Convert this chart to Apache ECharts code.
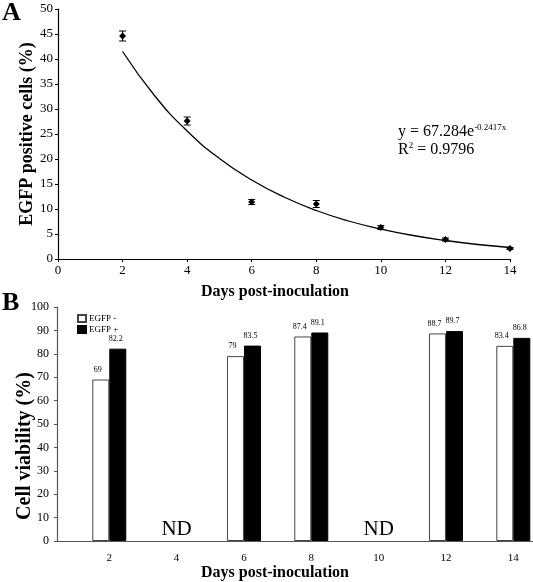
<!DOCTYPE html>
<html>
<head>
<meta charset="utf-8">
<script src="https://cdn.jsdelivr.net/npm/echarts@6/dist/echarts.min.js"></script>
<style>html,body{margin:0;padding:0;background:#fff}#c{width:533px;height:582px}</style>
</head>
<body>
<div id="c"></div>
<script>
// Panel A data
var daysA = [2, 4, 6, 8, 10, 12, 14];
var egfpPositive = [44.6, 27.6, 11.4, 11.0, 6.3, 3.9, 2.1];
var egfpError = [1.0, 0.8, 0.5, 0.7, 0.4, 0.3, 0.2];
var fitDays = [2, 3, 4, 5, 6, 7, 8, 9, 10, 11, 12, 13, 14];
var fitValues = [41.5, 32.6, 25.6, 20.1, 15.8, 12.4, 9.7, 7.6, 6.0, 4.7, 3.7, 2.9, 2.3];
// Panel B data
var daysB = [2, 6, 8, 12, 14];
var viabilityNeg = [69, 79, 87.4, 88.7, 83.4];
var viabilityPos = [82.2, 83.5, 89.1, 89.7, 86.8];
var ndDays = [4, 10];
var tickDaysB = [2, 4, 6, 8, 10, 12, 14];

var FONT = 'Liberation Serif';
var chart = echarts.init(document.getElementById('c'));

function zip(a, b) { return a.map(function (v, i) { return [v, b[i]]; }); }

var option = {
  backgroundColor: '#fff',
  animation: false,
  textStyle: { fontFamily: FONT },
  grid: [
    { left: 58, right: 23, top: 9, bottom: 323 },
    { left: 57, right: 0, top: 307, bottom: 40 }
  ],
  legend: {
    data: ['EGFP -', 'EGFP +'],
    orient: 'vertical',
    left: 72, top: 309,
    itemWidth: 8, itemHeight: 7, itemGap: 2,
    icon: 'rect',
    textStyle: { fontFamily: FONT, fontSize: 9, color: '#000', padding: [0, 0, 0, -2] }
  },
  xAxis: [
    {
      gridIndex: 0, type: 'value', min: 0, max: 14, interval: 2,
      name: 'Days post-inoculation', nameLocation: 'middle', nameGap: 25, nameMoveOverlap: false,
      nameTextStyle: { fontFamily: FONT, fontSize: 16, fontWeight: 'bold', color: '#000', padding: [0, 18, 0, 0] },
      axisLine: { lineStyle: { color: '#000', width: 1.2 } },
      axisTick: { show: true, inside: false, length: 3, lineStyle: { color: '#000' } },
      axisLabel: { fontFamily: FONT, fontSize: 13, color: '#000', margin: 5 },
      splitLine: { show: false }
    },
    {
      gridIndex: 1, type: 'value', min: 0.447, max: 14.585,
      name: 'Days post-inoculation', nameLocation: 'middle', nameGap: 24, nameMoveOverlap: false,
      nameTextStyle: { fontFamily: FONT, fontSize: 16, fontWeight: 'bold', color: '#000', padding: [0, 40, 0, 0] },
      axisLine: { onZero: false, lineStyle: { color: '#555', width: 1.2 } },
      axisTick: { show: false },
      axisLabel: { fontFamily: FONT, fontSize: 11, color: '#000', margin: 12, customValues: tickDaysB },
      splitLine: { show: false }
    }
  ],
  yAxis: [
    {
      gridIndex: 0, type: 'value', min: 0, max: 50, interval: 5,
      name: 'EGFP positive cells (%)', nameLocation: 'middle', nameGap: 22, nameMoveOverlap: false,
      nameTextStyle: { fontFamily: FONT, fontSize: 18, fontWeight: 'bold', color: '#000' },
      axisLine: { show: true, lineStyle: { color: '#000', width: 1.2 } },
      axisTick: { show: true, length: 3, lineStyle: { color: '#000' } },
      axisLabel: { fontFamily: FONT, fontSize: 13, color: '#000', margin: 5 },
      splitLine: { show: false }
    },
    {
      gridIndex: 1, type: 'value', min: 0, max: 100, interval: 10,
      name: 'Cell viability (%)', nameLocation: 'middle', nameGap: 22, nameMoveOverlap: false,
      nameTextStyle: { fontFamily: FONT, fontSize: 20, fontWeight: 'bold', color: '#000', padding: [0, 44, 0, 0] },
      axisLine: { show: true, lineStyle: { color: '#555', width: 1.2 } },
      axisTick: { show: true, length: 3, lineStyle: { color: '#555' } },
      axisLabel: { fontFamily: FONT, fontSize: 12, color: '#000', margin: 8 },
      splitLine: { show: false }
    }
  ],
  graphic: [
    { type: 'text', left: 2, top: 0, style: { text: 'A', font: 'bold 26px "Liberation Serif"', fill: '#000' } },
    { type: 'text', left: 2, top: 290, style: { text: 'B', font: 'bold 26px "Liberation Serif"', fill: '#000' } },
    { type: 'text', left: 398, top: 123, style: {
        text: '{m|y = 67.284e}{s|-0.2417x}\n{m|R}{s|2}{m| = 0.9796}',
        rich: {
          m: { fontFamily: FONT, fontSize: 16, color: '#000', lineHeight: 18 },
          s: { fontFamily: FONT, fontSize: 9, color: '#000', verticalAlign: 'top', padding: [0, 0, 7, 0], lineHeight: 18 }
        }
    } }
  ],
  series: [
    {
      type: 'line', xAxisIndex: 0, yAxisIndex: 0, smooth: true, symbol: 'none',
      lineStyle: { color: '#000', width: 1.3 },
      data: zip(fitDays, fitValues), z: 2
    },
    {
      type: 'custom', xAxisIndex: 0, yAxisIndex: 0,
      data: daysA.map(function (d, i) { return [d, egfpPositive[i] - egfpError[i], egfpPositive[i] + egfpError[i]]; }),
      renderItem: function (params, api) {
        var lo = api.coord([api.value(0), api.value(1)]);
        var hi = api.coord([api.value(0), api.value(2)]);
        var w = 3.5;
        var st = { stroke: '#000', lineWidth: 1 };
        return { type: 'group', children: [
          { type: 'line', shape: { x1: lo[0], y1: lo[1], x2: hi[0], y2: hi[1] }, style: st },
          { type: 'line', shape: { x1: lo[0] - w, y1: lo[1], x2: lo[0] + w, y2: lo[1] }, style: st },
          { type: 'line', shape: { x1: hi[0] - w, y1: hi[1], x2: hi[0] + w, y2: hi[1] }, style: st }
        ] };
      },
      z: 3
    },
    {
      type: 'scatter', xAxisIndex: 0, yAxisIndex: 0, symbol: 'diamond', symbolSize: 7,
      itemStyle: { color: '#000', opacity: 1 },
      data: zip(daysA, egfpPositive), z: 4
    },
    {
      name: 'EGFP -', type: 'bar', xAxisIndex: 1, yAxisIndex: 1,
      barWidth: 17, barGap: '0%',
      itemStyle: { color: '#fff', borderColor: '#444', borderWidth: 1 },
      label: { show: true, position: 'top', distance: 6, fontFamily: FONT, fontSize: 8, color: '#000', offset: [-3, 0] },
      data: zip(daysB, viabilityNeg)
    },
    {
      name: 'EGFP +', type: 'bar', xAxisIndex: 1, yAxisIndex: 1,
      barWidth: 17, barGap: '0%',
      itemStyle: { color: '#000', borderColor: '#000', borderWidth: 1 },
      label: { show: true, position: 'top', distance: 6, fontFamily: FONT, fontSize: 8, color: '#000', offset: [-2, 0] },
      data: zip(daysB, viabilityPos)
    },
    {
      type: 'scatter', xAxisIndex: 1, yAxisIndex: 1, symbolSize: 0,
      itemStyle: { color: '#000', opacity: 1 },
      label: { show: true, position: 'inside', formatter: 'ND', fontFamily: FONT, fontSize: 21, color: '#000', opacity: 1 },
      data: ndDays.map(function (d) { return [d, 5]; })
    }
  ]
};
chart.setOption(option);
</script>
</body>
</html>
